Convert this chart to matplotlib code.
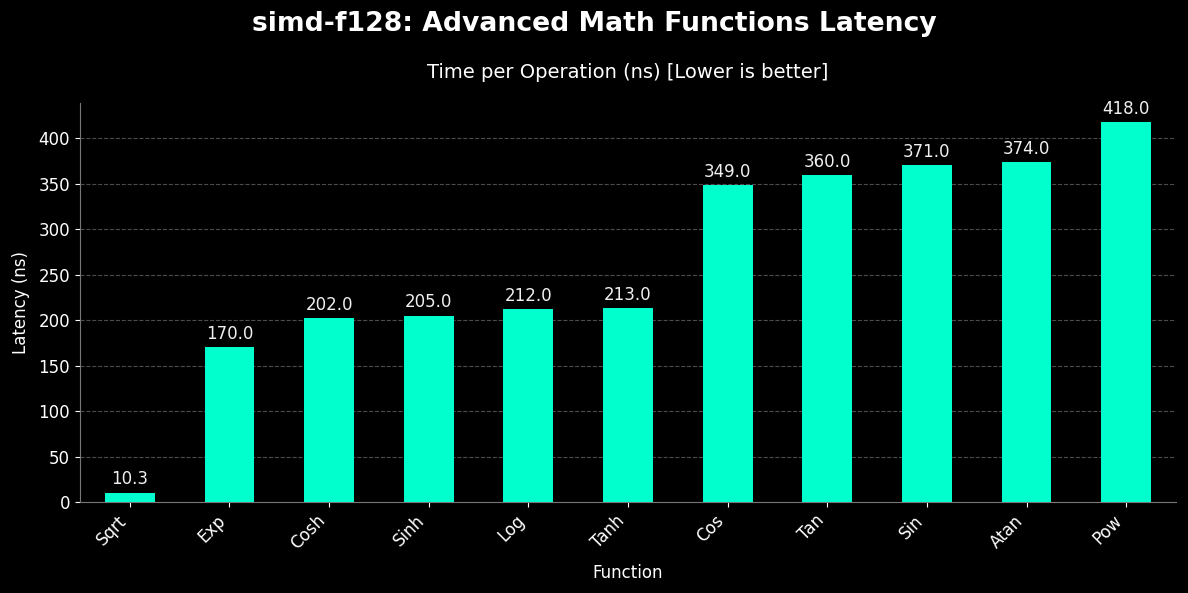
import matplotlib.pyplot as plt

# data
functions = ['Sqrt', 'Exp', 'Cosh', 'Sinh', 'Log', 'Tanh', 'Cos', 'Tan', 'Sin', 'Atan', 'Pow']
latency_ns = [10.3, 170.0, 202.0, 205.0, 212.0, 213.0, 349.0, 360.0, 371.0, 374.0, 418.0]

plt.style.use('dark_background')
fig, ax = plt.subplots(figsize=(11.88, 5.93), dpi=100)
fig.patch.set_facecolor('black')
ax.set_facecolor('black')

x = range(len(functions))
bars = ax.bar(x, latency_ns, width=0.5, color='#00FFCC', zorder=3)

for b, v in zip(bars, latency_ns):
    ax.annotate(f'{v:.1f}', (b.get_x() + b.get_width() / 2, v),
                xytext=(0, 3), textcoords='offset points',
                ha='center', va='bottom', fontsize=12, color='#f0f0f0')

ax.set_xticks(list(x))
ax.set_xticklabels(functions, rotation=45, ha='right', fontsize=12)
ax.tick_params(axis='y', labelsize=12)
ax.set_xlim(-0.5, len(functions) - 0.5)
ax.set_ylim(0, max(latency_ns) * 1.05)

ax.set_xlabel('Function', fontsize=12, labelpad=8)
ax.set_ylabel('Latency (ns)', fontsize=12, labelpad=6)
ax.set_title('Time per Operation (ns) [Lower is better]', fontsize=14, pad=18)
fig.suptitle('simd-f128: Advanced Math Functions Latency', fontsize=19.2, fontweight='bold',
             y=0.96, va='center')

ax.grid(axis='y', linestyle='--', color='#555555', alpha=0.9, zorder=0)
ax.spines['top'].set_visible(False)
ax.spines['right'].set_visible(False)
ax.spines['left'].set_color('#777777')
ax.spines['bottom'].set_color('#777777')

fig.subplots_adjust(left=0.0673, right=0.9899, top=0.8263, bottom=0.1535)
plt.savefig('out.png', dpi=100, facecolor='black')
plt.close()
